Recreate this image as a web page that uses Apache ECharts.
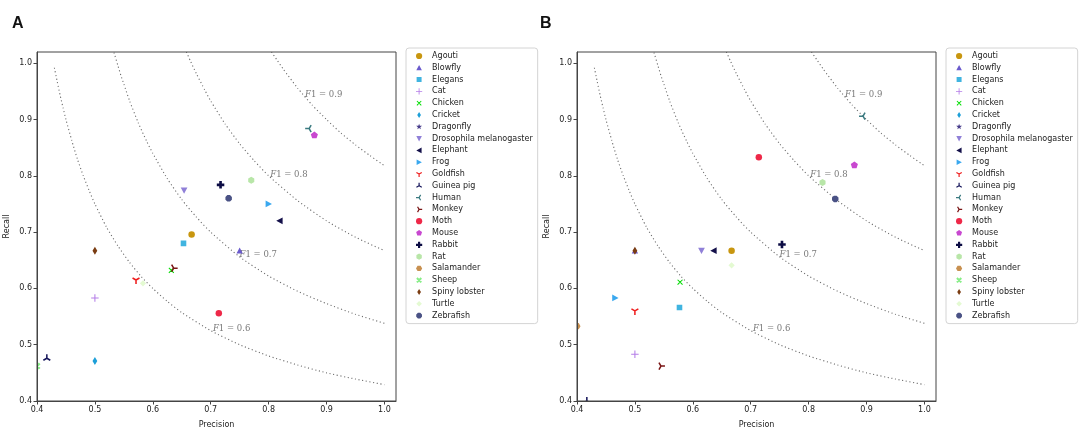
<!DOCTYPE html>
<html>
<head>
<meta charset="utf-8">
<script src="https://cdn.jsdelivr.net/npm/echarts@6/dist/echarts.min.js"></script>
<style>
  html, body { margin: 0; padding: 0; background: #fff; }
  #main { width: 1084px; height: 434px; }
</style>
</head>
<body>
<div id="main"></div>
<script>
// species (legend order)
var species = ['Agouti', 'Blowfly', 'Elegans', 'Cat', 'Chicken', 'Cricket', 'Dragonfly',
  'Drosophila melanogaster', 'Elephant', 'Frog', 'Goldfish', 'Guinea pig', 'Human', 'Monkey',
  'Moth', 'Mouse', 'Rabbit', 'Rat', 'Salamander', 'Sheep', 'Spiny lobster', 'Turtle', 'Zebrafish'];

// panel A (null = not inside the plotted range)
var precisionA = [0.667, 0.75, 0.653, 0.5, 0.632, 0.5, null, 0.654, 0.819, 0.8, 0.571, 0.417,
  0.87, 0.636, 0.714, 0.879, 0.717, 0.77, null, 0.4, 0.5, 0.583, 0.731];
var recallA = [0.696, 0.667, 0.68, 0.583, 0.632, 0.471, null, 0.774, 0.72, 0.75, 0.615, 0.476,
  0.884, 0.636, 0.556, 0.872, 0.784, 0.792, null, 0.462, 0.667, 0.609, 0.76];

// panel B
var precisionB = [0.667, 0.5, 0.577, 0.5, 0.578, null, null, 0.615, 0.636, 0.466, 0.5, 0.417,
  0.894, 0.545, 0.714, 0.879, 0.754, 0.824, 0.4, null, 0.5, 0.667, 0.846];
var recallB = [0.667, 0.667, 0.566, 0.483, 0.611, null, null, 0.667, 0.667, 0.583, 0.56, 0.4,
  0.906, 0.462, 0.833, 0.819, 0.678, 0.788, 0.533, null, 0.667, 0.641, 0.759];

// iso-F1 curves
var f1Curve06 = [[0.43, 0.992], [0.435, 0.967], [0.44, 0.943], [0.445, 0.921], [0.45, 0.9], [0.46, 0.863],
  [0.47, 0.829], [0.48, 0.8], [0.49, 0.774], [0.5, 0.75], [0.52, 0.709], [0.54, 0.675], [0.56, 0.646],
  [0.58, 0.621], [0.6, 0.6], [0.625, 0.577], [0.65, 0.557], [0.7, 0.525], [0.75, 0.5], [0.8, 0.48],
  [0.85, 0.464], [0.9, 0.45], [0.95, 0.439], [1.0, 0.429]];
var f1Curve07 = [[0.533, 1.019], [0.54, 0.995], [0.545, 0.978], [0.55, 0.963], [0.56, 0.933], [0.575, 0.894],
  [0.59, 0.86], [0.6, 0.84], [0.625, 0.795], [0.65, 0.758], [0.675, 0.727], [0.7, 0.7], [0.75, 0.656],
  [0.8, 0.622], [0.85, 0.595], [0.9, 0.573], [0.95, 0.554], [1.0, 0.538]];
var f1Curve08 = [[0.658, 1.02], [0.665, 1.004], [0.675, 0.982], [0.69, 0.952], [0.7, 0.933], [0.725, 0.892],
  [0.75, 0.857], [0.775, 0.827], [0.8, 0.8], [0.85, 0.756], [0.9, 0.72], [0.95, 0.691], [1.0, 0.667]];
var f1Curve09 = [[0.805, 1.02], [0.815, 1.005], [0.825, 0.99], [0.85, 0.956], [0.875, 0.926], [0.9, 0.9],
  [0.925, 0.876], [0.95, 0.855], [0.975, 0.836], [1.0, 0.818]];
var f1Labels = ['0.6', '0.7', '0.8', '0.9'];
var f1LabelAt = [[0.703, 0.529], [0.749, 0.659], [0.802, 0.802], [0.862, 0.944]];

var axisTicks = [0.4, 0.5, 0.6, 0.7, 0.8, 0.9, 1.0];

// ---- marker shapes (20x20 box, padded so every path keeps the same frame)
var PAD = 'M0,0ZM20,20Z';
function pt(x, y) { return x.toFixed(2) + ',' + y.toFixed(2); }
function polygon(n, rot, r) {
  var d = '';
  for (var i = 0; i < n; i++) {
    var a = rot + i * 2 * Math.PI / n;
    d += (i ? 'L' : 'M') + pt(10 + r * Math.cos(a), 10 + r * Math.sin(a));
  }
  return 'path://' + PAD + d + 'Z';
}
function star() {
  var d = '';
  for (var i = 0; i < 10; i++) {
    var a = -Math.PI / 2 + i * Math.PI / 5;
    var r = i % 2 ? 4 : 10;
    d += (i ? 'L' : 'M') + pt(10 + r * Math.cos(a), 10 + r * Math.sin(a));
  }
  return 'path://' + PAD + d + 'Z';
}
function arms(degs, w) {
  var d = PAD;
  degs.forEach(function (deg) {
    var a = deg * Math.PI / 180, c = Math.cos(a), s = Math.sin(a);
    var nx = -s * w, ny = c * w;
    d += 'M' + pt(10 + nx, 10 + ny) + 'L' + pt(10 + 10 * c + nx, 10 + 10 * s + ny) +
      'L' + pt(10 + 10 * c - nx, 10 + 10 * s - ny) + 'L' + pt(10 - nx, 10 - ny) + 'Z';
  });
  return 'path://' + d;
}
var sym = {
  circle: 'circle',
  triUp: 'path://' + PAD + 'M10,1L19,18H1Z',
  square: 'path://' + PAD + 'M2,2H18V18H2Z',
  plus: 'path://' + PAD + 'M8.6,0H11.4V8.6H20V11.4H11.4V20H8.6V11.4H0V8.6H8.6Z',
  plusFilled: 'path://' + PAD + 'M6.5,0H13.5V6.5H20V13.5H13.5V20H6.5V13.5H0V6.5H6.5Z',
  x: arms([45, 135, 225, 315], 1.5),
  xFilled: arms([45, 135, 225, 315], 3.2),
  thinDiamond: 'path://' + PAD + 'M10,0L16,10L10,20L4,10Z',
  diamond: 'path://' + PAD + 'M10,1L19,10L10,19L1,10Z',
  triDown: 'path://' + PAD + 'M1,2H19L10,19Z',
  triLeft: 'path://' + PAD + 'M1,10L18,1V19Z',
  triRight: 'path://' + PAD + 'M19,10L2,1V19Z',
  y1: arms([90, 210, 330], 1.9),
  y2: arms([270, 30, 150], 1.9),
  y3: arms([180, 60, 300], 1.9),
  y4: arms([0, 120, 240], 1.9),
  star: star(),
  pentagon: polygon(5, -Math.PI / 2, 10),
  hexPoint: polygon(6, -Math.PI / 2, 10),
  hexFlat: polygon(6, 0, 10),
  octagon: polygon(8, Math.PI / 8, 10)
};

var markerColors = ['#c8960f', '#6a5acd', '#40b4e0', '#b57ee8', '#00dd00', '#1d9fd8', '#483d8b',
  '#9080d8', '#14104a', '#3aa8ef', '#ee1c1c', '#14145a', '#3a7a80', '#7a1515', '#ee2848', '#c848d0',
  '#0c0c44', '#b8e6a8', '#c89050', '#88ee88', '#7a3c12', '#e4fad2', '#4a5285'];
var markerShapes = [sym.circle, sym.triUp, sym.square, sym.plus, sym.x, sym.thinDiamond, sym.star,
  sym.triDown, sym.triLeft, sym.triRight, sym.y1, sym.y2, sym.y3, sym.y4, sym.circle, sym.pentagon,
  sym.plusFilled, sym.hexPoint, sym.hexFlat, sym.xFilled, sym.thinDiamond, sym.diamond, sym.octagon];
var markerSizes = [6.5, 7, 7, 7.5, 7, 8, 8, 7.5, 7.5, 7.5, 8, 8, 8, 8, 6.5, 7.5, 7.5, 7, 7, 7.5, 8, 7, 7];

var chart = echarts.init(document.getElementById('main'), null, { renderer: 'canvas' });

var series = [];
function addPanel(idx, precision, recall) {
  [f1Curve06, f1Curve07, f1Curve08, f1Curve09].forEach(function (curve) {
    series.push({
      type: 'line', xAxisIndex: idx, yAxisIndex: idx, data: curve,
      showSymbol: false, smooth: 0.2, silent: true, clip: true, z: 1,
      lineStyle: { color: '#6a6a6a', width: 1.1, type: [1.1, 2.6] }
    });
  });
  series.push({
    type: 'scatter', xAxisIndex: idx, yAxisIndex: idx, silent: true, z: 1,
    symbolSize: 1, itemStyle: { color: 'rgba(0,0,0,0)' },
    data: f1LabelAt.map(function (p, i) { return [p[0], p[1], f1Labels[i]]; }),
    label: {
      show: true, position: 'right', distance: 0,
      formatter: function (p) { return '{i|F}{n|1 = ' + p.value[2] + '}'; },
      rich: {
        i: { fontFamily: 'DejaVu Serif', fontStyle: 'italic', fontSize: 8.5, color: '#555' },
        n: { fontFamily: 'DejaVu Serif', fontSize: 8.5, color: '#555' }
      }
    }
  });
  species.forEach(function (name, i) {
    var pts = precision[i] === null ? [] : [[precision[i], recall[i]]];
    series.push({
      name: name, type: 'scatter', xAxisIndex: idx, yAxisIndex: idx, z: 2,
      data: pts, symbol: markerShapes[i], symbolSize: markerSizes[i], symbolKeepAspect: true,
      itemStyle: { color: markerColors[i], opacity: 1 }
    });
  });
}
addPanel(0, precisionA, recallA);
addPanel(1, precisionB, recallB);

function makeX(idx) {
  return {
    type: 'value', gridIndex: idx, min: 0.4, max: 1.02, interval: 0.1, z: 5,
    name: 'Precision', nameLocation: 'middle', nameGap: 20,
    nameTextStyle: { fontFamily: 'DejaVu Sans', fontSize: 8, color: '#222' },
    axisLine: { lineStyle: { color: '#444', width: 1 } },
    axisTick: { length: 3.5, lineStyle: { color: '#444' } },
    axisLabel: {
      fontFamily: 'DejaVu Sans', fontSize: 8, color: '#222', margin: 5,
      showMaxLabel: false,
      formatter: function (v) { return axisTicks.indexOf(Math.round(v * 10) / 10) >= 0 ? v.toFixed(1) : ''; }
    },
    splitLine: { show: false }
  };
}
function makeY(idx) {
  return {
    type: 'value', gridIndex: idx, min: 0.4, max: 1.02, interval: 0.1, z: 5,
    name: 'Recall', nameLocation: 'middle', nameGap: 26,
    nameTextStyle: { fontFamily: 'DejaVu Sans', fontSize: 8, color: '#222' },
    axisLine: { lineStyle: { color: '#444', width: 1 } },
    axisTick: { length: 3.5, lineStyle: { color: '#444' } },
    axisLabel: {
      fontFamily: 'DejaVu Sans', fontSize: 8, color: '#222', margin: 5,
      showMaxLabel: false,
      formatter: function (v) { return v.toFixed(1); }
    },
    splitLine: { show: false }
  };
}
function makeLegend(left) {
  return {
    data: species, orient: 'vertical', left: left, top: 48,
    padding: [4, 5, 4, 10], itemGap: 3.8, itemWidth: 16, itemHeight: 6.2,
    backgroundColor: '#fff', borderColor: '#d4d4d4', borderWidth: 1, borderRadius: 3,
    textStyle: { fontFamily: 'DejaVu Sans', fontSize: 8, color: '#222', lineHeight: 8 },
    selectedMode: false
  };
}

// white strips just outside each frame hide marker halves that fall past the edges
function mask(x, y, w, h) {
  return { type: 'rect', shape: { x: x, y: y, width: w, height: h }, style: { fill: '#fff' }, z: 3, silent: true };
}

chart.setOption({
  animation: false,
  backgroundColor: '#fff',
  title: [
    { text: 'A', left: 7, top: 11, textStyle: { fontFamily: 'Liberation Sans', fontWeight: 'bold', fontSize: 16, color: '#111' } },
    { text: 'B', left: 535, top: 11, textStyle: { fontFamily: 'Liberation Sans', fontWeight: 'bold', fontSize: 16, color: '#111' } }
  ],
  grid: [
    { left: 37, top: 52, width: 359, height: 350, show: true, borderColor: '#444', borderWidth: 1, backgroundColor: 'transparent', z: 5 },
    { left: 577, top: 52, width: 359, height: 350, show: true, borderColor: '#444', borderWidth: 1, backgroundColor: 'transparent', z: 5 }
  ],
  xAxis: [makeX(0), makeX(1)],
  yAxis: [makeY(0), makeY(1)],
  legend: [makeLegend(406), makeLegend(946)],
  graphic: [
    mask(26, 44, 11, 366), mask(26, 402, 375, 8),
    mask(566, 44, 11, 366), mask(566, 402, 375, 8)
  ],
  series: series
});
</script>
</body>
</html>
